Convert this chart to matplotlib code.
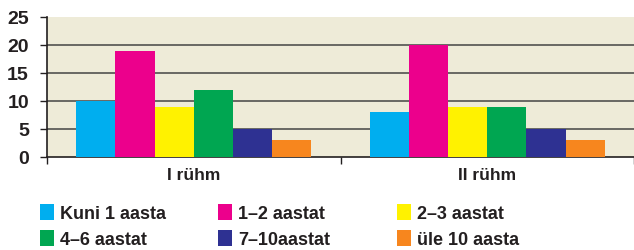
import numpy as np
import matplotlib
matplotlib.use("Agg")
import matplotlib.pyplot as plt
from matplotlib.patches import Patch

groups = ["I rühm", "II rühm"]
series = ["Kuni 1 aasta", "1–2 aastat", "2–3 aastat", "4–6 aastat", "7–10aastat", "üle 10 aasta"]
values = [
    [10, 8],
    [19, 20],
    [9, 9],
    [12, 9],
    [5, 5],
    [3, 3],
]
colors = ["#00AEEF", "#EC008C", "#FFF200", "#00A651", "#2E3192", "#F7861E"]
yticks = [0, 5, 10, 15, 20, 25]

TEXT = "#231F20"
plt.rcParams["font.family"] = ["Liberation Sans", "DejaVu Sans"]
plt.rcParams["font.weight"] = "bold"

fig = plt.figure(figsize=(6.34, 2.51), dpi=100)
ax = fig.add_axes([47 / 634, 93 / 251, 587 / 634, 140 / 251])
ax.set_facecolor("#EEEBD8")

x = np.arange(len(groups))
w = 0.8 / len(series)
for i, (name, vals) in enumerate(zip(series, values)):
    ax.bar(x - 0.4 + w * (i + 0.5), vals, width=w, color=colors[i], label=name, zorder=3)

ax.set_xlim(-0.5, len(groups) - 0.5)
ax.set_ylim(0, 25)
ax.set_yticks(yticks)
ax.set_yticklabels([str(t) for t in yticks], fontsize=14, fontweight="bold", color=TEXT)
for t in yticks[1:-1]:
    ax.axhline(t, color="#444444", lw=1.1, zorder=1)

ax.set_xticks(np.arange(-0.5, len(groups)), minor=False)
ax.set_xticklabels([])
ax.set_xticks(x, minor=True)
ax.set_xticklabels(groups, minor=True, fontsize=12.5, fontweight="bold", color=TEXT)
ax.tick_params(axis="x", which="minor", length=0, pad=7)
ax.tick_params(axis="x", which="major", length=5, width=1, color=TEXT)
ax.tick_params(axis="y", length=5, width=1, color=TEXT, pad=8)

for s in ["top", "right"]:
    ax.spines[s].set_visible(False)
for s in ["left", "bottom"]:
    ax.spines[s].set_color(TEXT)
    ax.spines[s].set_linewidth(1.2)

# legend: three columns placed like the original
col_x = [40 / 634, 218 / 634, 397 / 634]
for c in range(3):
    idx = [c, c + 3]
    handles = [Patch(facecolor=colors[i], edgecolor="none") for i in idx]
    leg = fig.legend(handles, [series[i] for i in idx], loc="upper left",
                     bbox_to_anchor=(col_x[c], 46 / 251), frameon=False,
                     handlelength=0.75, handleheight=0.95, handletextpad=0.35,
                     labelspacing=0.45, borderaxespad=0, borderpad=0,
                     prop={"size": 13, "weight": "bold"})
    for t in leg.get_texts():
        t.set_color(TEXT)

fig.savefig("out.png", dpi=100)
